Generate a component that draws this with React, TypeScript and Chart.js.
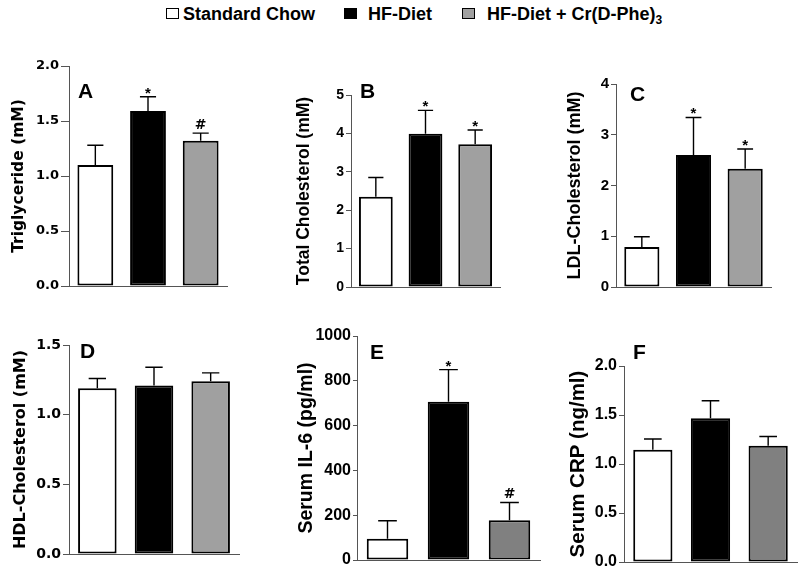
import React, { useEffect, useRef } from "react";
import { Chart, registerables } from "chart.js";

Chart.register(...registerables);

// ---------------- DATA ----------------
const groups = ["Standard Chow", "HF-Diet", "HF-Diet + Cr(D-Phe)3"];

const triglycerideMean = [1.1, 1.59, 1.32];
const triglycerideSem = [0.18, 0.13, 0.07];
const triglycerideMarks = ["", "*", "#"];
const triglycerideTicks = ["0.0", "0.5", "1.0", "1.5", "2.0"];

const totalCholMean = [2.35, 3.99, 3.72];
const totalCholSem = [0.5, 0.61, 0.37];
const totalCholMarks = ["", "*", "*"];
const totalCholTicks = ["0", "1", "2", "3", "4", "5"];

const ldlMean = [0.79, 2.6, 2.33];
const ldlSem = [0.2, 0.74, 0.39];
const ldlMarks = ["", "*", "*"];
const ldlTicks = ["0", "1", "2", "3", "4"];

const hdlMean = [1.19, 1.21, 1.24];
const hdlSem = [0.07, 0.13, 0.06];
const hdlMarks = ["", "", ""];
const hdlTicks = ["0.0", "0.5", "1.0", "1.5"];

const il6Mean = [95, 706, 178];
const il6Sem = [80, 144, 79];
const il6Marks = ["", "*", "#"];
const il6Ticks = ["0", "200", "400", "600", "800", "1000"];

const crpMean = [1.145, 1.466, 1.187];
const crpSem = [0.11, 0.18, 0.093];
const crpMarks = ["", "", ""];
const crpTicks = ["0.0", "0.5", "1.0", "1.5", "2.0"];

// ---------------- STYLE / LAYOUT ----------------
const ARIAL = "Liberation Sans";
const DEJAVU = "DejaVu Sans";
const LIGHT_GRAY = "#a0a0a0";
const DARK_GRAY = "#808080";
const AXIS = "#555555";

Chart.defaults.font.weight = "bold" as any;
Chart.defaults.font.family = ARIAL;
Chart.defaults.color = "#000";

type PanelCfg = {
  letter: string;
  title: string;
  mean: number[];
  sem: number[];
  marks: string[];
  ticks: string[];
  gray: string;
  box: { x: number; y: number; w: number; h: number };
  area: { l: number; t: number; r: number; b: number };
  titleX: number;
  titleFont: string;
  titleSize: number;
  tickFont: string;
  tickSize: number;
  tickLen: number;
  letterDx: number;
  letterDy: number;
};

const panels: PanelCfg[] = [
  {
    letter: "A", title: "Triglyceride (mM)",
    mean: triglycerideMean, sem: triglycerideSem, marks: triglycerideMarks, ticks: triglycerideTicks,
    gray: LIGHT_GRAY,
    box: { x: 0, y: 40, w: 262, h: 260 }, area: { l: 69, t: 66, r: 227, b: 286 },
    titleX: 18.5, titleFont: DEJAVU, titleSize: 15.5, tickFont: DEJAVU, tickSize: 13, tickLen: 8,
    letterDx: 9, letterDy: 26,
  },
  {
    letter: "B", title: "Total Cholesterol (mM)",
    mean: totalCholMean, sem: totalCholSem, marks: totalCholMarks, ticks: totalCholTicks,
    gray: LIGHT_GRAY,
    box: { x: 262, y: 40, w: 263, h: 260 }, area: { l: 351, t: 95, r: 500, b: 287 },
    titleX: 304, titleFont: ARIAL, titleSize: 17.5, tickFont: ARIAL, tickSize: 14, tickLen: 5,
    letterDx: 9, letterDy: -3,
  },
  {
    letter: "C", title: "LDL-Cholesterol (mM)",
    mean: ldlMean, sem: ldlSem, marks: ldlMarks, ticks: ldlTicks,
    gray: LIGHT_GRAY,
    box: { x: 525, y: 40, w: 275, h: 260 }, area: { l: 616, t: 84, r: 771, b: 287 },
    titleX: 575, titleFont: ARIAL, titleSize: 18, tickFont: ARIAL, tickSize: 15, tickLen: 5,
    letterDx: 14, letterDy: 11,
  },
  {
    letter: "D", title: "HDL-Cholesterol (mM)",
    mean: hdlMean, sem: hdlSem, marks: hdlMarks, ticks: hdlTicks,
    gray: LIGHT_GRAY,
    box: { x: 0, y: 320, w: 262, h: 258 }, area: { l: 69, t: 345, r: 239, b: 554 },
    titleX: 21, titleFont: DEJAVU, titleSize: 16, tickFont: DEJAVU, tickSize: 14, tickLen: 6,
    letterDx: 11, letterDy: 7,
  },
  {
    letter: "E", title: "Serum IL-6 (pg/ml)",
    mean: il6Mean, sem: il6Sem, marks: il6Marks, ticks: il6Ticks,
    gray: DARK_GRAY,
    box: { x: 262, y: 320, w: 293, h: 258 }, area: { l: 357, t: 336, r: 540, b: 560 },
    titleX: 307, titleFont: ARIAL, titleSize: 19.5, tickFont: ARIAL, tickSize: 16, tickLen: 4,
    letterDx: 13, letterDy: 17,
  },
  {
    letter: "F", title: "Serum CRP (ng/ml)",
    mean: crpMean, sem: crpSem, marks: crpMarks, ticks: crpTicks,
    gray: DARK_GRAY,
    box: { x: 555, y: 320, w: 245, h: 258 }, area: { l: 624, t: 366, r: 797, b: 562 },
    titleX: 578, titleFont: ARIAL, titleSize: 20.5, tickFont: ARIAL, tickSize: 16, tickLen: 5,
    letterDx: 9, letterDy: -13,
  },
];

// ---------------- PLUGIN: error bars, significance marks, panel letter ----------------
const errorBarPlugin = {
  id: "errorBars",
  afterDatasetsDraw(chart: any, _args: any, opts: any) {
    const { ctx, chartArea } = chart;
    const meta = chart.getDatasetMeta(0);
    const yScale = chart.scales.y;
    const means = chart.data.datasets[0].data as number[];
    ctx.save();
    meta.data.forEach((el: any, i: number) => {
      const top = yScale.getPixelForValue(means[i] + opts.sem[i]);
      const half = (el.width * 0.45) / 2;
      ctx.strokeStyle = "#000";
      ctx.lineWidth = 1.4;
      ctx.beginPath();
      ctx.moveTo(el.x, el.y);
      ctx.lineTo(el.x, top);
      ctx.moveTo(el.x - half, top);
      ctx.lineTo(el.x + half, top);
      ctx.stroke();
      const m = opts.marks[i];
      if (m) {
        ctx.fillStyle = "#000";
        ctx.textAlign = "center";
        ctx.textBaseline = "alphabetic";
        if (m === "*") {
          ctx.font = `bold 15px "${ARIAL}"`;
          ctx.fillText(m, el.x, top + 1);
        } else {
          ctx.font = `bold 14px "${DEJAVU}"`;
          ctx.fillText(m, el.x, top - 4);
        }
      }
    });
    ctx.fillStyle = "#000";
    ctx.font = `bold 21px "${ARIAL}"`;
    ctx.textAlign = "left";
    ctx.textBaseline = "middle";
    ctx.fillText(opts.letter, chartArea.left + opts.letterDx, chartArea.top + opts.letterDy);
    ctx.restore();
  },
};

function Panel({ cfg }: { cfg: PanelCfg }) {
  const ref = useRef<HTMLCanvasElement>(null);
  useEffect(() => {
    const { box, area } = cfg;
    const padLeft = cfg.titleX - box.x - cfg.titleSize / 2;
    const yWidth = area.l - box.x - padLeft;
    const tickVals = cfg.ticks.map(Number);
    const chart = new Chart(ref.current as HTMLCanvasElement, {
      type: "bar",
      data: {
        labels: groups,
        datasets: [
          {
            data: cfg.mean,
            backgroundColor: ["#ffffff", "#000000", cfg.gray],
            borderColor: "#000000",
            borderWidth: 2,
            borderSkipped: false,
            barPercentage: 0.68,
            categoryPercentage: 1,
          },
        ],
      },
      plugins: [errorBarPlugin],
      options: {
        responsive: false,
        animation: false,
        devicePixelRatio: 1,
        layout: {
          padding: {
            left: padLeft,
            top: area.t - box.y,
            right: box.x + box.w - area.r,
            bottom: box.y + box.h - area.b,
          },
        },
        plugins: {
          legend: { display: false },
          tooltip: { enabled: false },
          errorBars: { sem: cfg.sem, marks: cfg.marks, letter: cfg.letter, letterDx: cfg.letterDx, letterDy: cfg.letterDy },
        } as any,
        scales: {
          x: {
            type: "category",
            offset: true,
            grid: { display: false },
            ticks: { display: false },
            border: { display: true, color: AXIS, width: 1 },
            afterFit: (s: any) => {
              s.height = 0;
            },
          },
          y: {
            min: tickVals[0],
            max: tickVals[tickVals.length - 1],
            ticks: {
              stepSize: tickVals[1] - tickVals[0],
              color: "#000",
              padding: 2,
              font: { family: cfg.tickFont, size: cfg.tickSize, weight: 700 },
              callback: (v: any) => {
                const idx = tickVals.findIndex((t) => Math.abs(t - Number(v)) < 1e-6);
                return idx >= 0 ? cfg.ticks[idx] : "";
              },
            },
            grid: { display: true, drawOnChartArea: false, drawTicks: true, tickLength: cfg.tickLen, color: AXIS, lineWidth: 1 },
            border: { display: true, color: AXIS, width: 1 },
            title: {
              display: true,
              text: cfg.title,
              color: "#000",
              padding: 0,
              font: { family: cfg.titleFont, size: cfg.titleSize, weight: 700, lineHeight: 1 },
            },
            afterFit: (s: any) => {
              s.width = yWidth;
            },
          },
        },
      } as any,
    });
    return () => chart.destroy();
  }, [cfg]);
  return (
    <canvas
      ref={ref}
      width={cfg.box.w}
      height={cfg.box.h}
      style={{ position: "absolute", left: cfg.box.x, top: cfg.box.y, width: cfg.box.w, height: cfg.box.h }}
    />
  );
}

const legendBoxes = [
  { x: 166, color: "#ffffff", textX: 183 },
  { x: 344, color: "#000000", textX: 368 },
  { x: 462, color: LIGHT_GRAY, textX: 487 },
];

export default function App() {
  const label3 = groups[2];
  return (
    <div
      style={{
        position: "fixed",
        left: 0,
        top: 0,
        width: 800,
        height: 578,
        background: "#ffffff",
        overflow: "hidden",
        fontFamily: `"${ARIAL}", Arial, sans-serif`,
      }}
    >
      {legendBoxes.map((b, i) => (
        <React.Fragment key={i}>
          <div
            style={{
              position: "absolute",
              left: b.x,
              top: 8,
              width: 11,
              height: 9,
              background: b.color,
              border: "1px solid #000",
            }}
          />
          <div
            style={{
              position: "absolute",
              left: b.textX,
              top: 5,
              fontSize: 18,
              lineHeight: "18px",
              fontWeight: "bold",
              color: "#000",
              whiteSpace: "nowrap",
            }}
          >
            {i === 2 ? (
              <>
                {label3.slice(0, -1)}
                <sub style={{ fontSize: 12, lineHeight: 0, verticalAlign: "-4px" }}>{label3.slice(-1)}</sub>
              </>
            ) : (
              groups[i]
            )}
          </div>
        </React.Fragment>
      ))}
      {panels.map((p) => (
        <Panel key={p.letter} cfg={p} />
      ))}
    </div>
  );
}
